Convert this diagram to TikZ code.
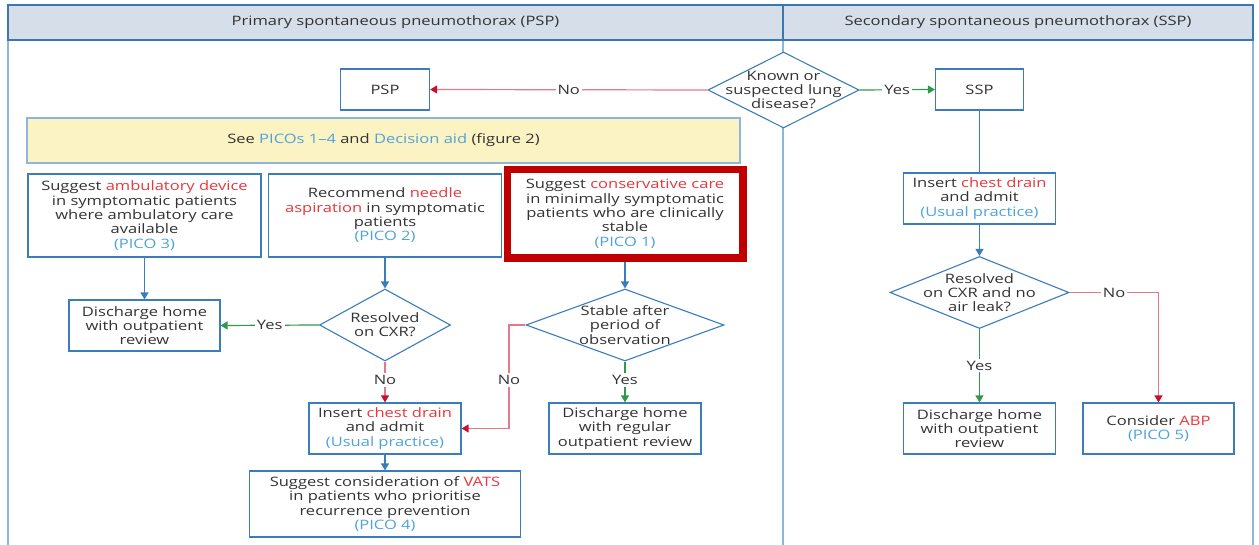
\documentclass[tikz,border=0pt]{standalone}
\usepackage{fontspec}
\setmainfont{Open Sans}[FakeStretch=1.27]
\usetikzlibrary{arrows.meta,shapes.geometric}

\definecolor{boxblue}{HTML}{3A7DBA}
\definecolor{linkblue}{HTML}{4FA3DC}
\definecolor{accred}{HTML}{E8383D}
\definecolor{noline}{HTML}{E17A8C}
\definecolor{nohead}{HTML}{C8102E}
\definecolor{yesgreen}{HTML}{2E9A4A}
\definecolor{headfill}{HTML}{D6DEEA}
\definecolor{headline}{HTML}{3A78AE}
\definecolor{frameblue}{HTML}{8DB6DA}
\definecolor{pyellow}{HTML}{FBF3C3}
\definecolor{framered}{HTML}{C00000}
\definecolor{txtgray}{HTML}{333333}

\begin{document}
\begin{tikzpicture}[x=1pt, y=-1pt,
    every node/.style={font=\fontsize{13}{14.3}\selectfont, text=txtgray},
    box/.style={draw=boxblue, line width=1.1pt, fill=white, align=center, inner sep=0pt},
    decision/.style={diamond, draw=boxblue, line width=1.1pt, fill=white, inner sep=0pt},
    lbl/.style={fill=white, inner sep=2pt},
    flow/.style={-{Triangle[length=7pt,width=8pt]}, line width=1.2pt, boxblue},
    noarrow/.style={-{Triangle[length=7pt,width=8pt,color=nohead]}, line width=1.2pt, noline},
    yesarrow/.style={-{Triangle[length=7pt,width=8pt]}, line width=1.2pt, yesgreen}]
  \useasboundingbox (0,0) rectangle (1259,545);
  % panels
  \draw[frameblue, line width=1.5pt] (8,40) -- (8,545) (783,40) -- (783,545) (1253,40) -- (1253,545);
  \draw[headline, fill=headfill, line width=1.5pt] (8,5) rectangle (783,40);
  \draw[headline, fill=headfill, line width=1.5pt] (783,5) rectangle (1253,40);
  \node (hpsp) at (395.5,22) {Primary spontaneous pneumothorax (PSP)};
  \node (hssp) at (1018,22) {Secondary spontaneous pneumothorax (SSP)};

  % top decision
  \node[decision, minimum width=151, minimum height=76, label={[align=center]center:Known or\\suspected lung\\disease?}] (known) at (783.5,90) {};
  \node[box, minimum width=89, minimum height=41] (psp) at (385,89.5) {PSP};
  \node[box, minimum width=88, minimum height=41] (ssp) at (979.5,89.5) {SSP};
  \node[box, draw=frameblue, fill=pyellow, minimum width=713, minimum height=45] (picos) at (383.5,140.5)
    {See \textcolor{linkblue}{PICOs 1–4} and \textcolor{linkblue}{Decision aid} (figure 2)};

  % PSP options
  \node[box, minimum width=233, minimum height=83] (amb) at (144.5,215.5)
    {Suggest \textcolor{accred}{ambulatory device}\\in symptomatic patients\\where ambulatory care\\available\\\textcolor{linkblue}{(PICO 3)}};
  \node[box, minimum width=233, minimum height=83] (needle) at (385,215.5)
    {Recommend \textcolor{accred}{needle}\\\textcolor{accred}{aspiration} in symptomatic\\patients\\\textcolor{linkblue}{(PICO 2)}};
  \node[box, draw=framered, line width=7.5pt, minimum width=235.5, minimum height=88.5] (cons) at (625,213.75)
    {Suggest \textcolor{accred}{conservative care}\\in minimally symptomatic\\patients who are clinically\\stable\\\textcolor{linkblue}{(PICO 1)}};

  \node[box, minimum width=151, minimum height=51] (dhome) at (144.5,325.5) {Discharge home\\with outpatient\\review};
  \node[decision, minimum width=131, minimum height=72, label={[align=center]center:Resolved\\on CXR?}] (cxr) at (385,325) {};
  \node[decision, minimum width=198, minimum height=72, label={[align=center]center:Stable after\\period of\\observation}] (stable) at (625,325) {};
  \node[box, minimum width=152, minimum height=51] (drain) at (385,428.5)
    {Insert \textcolor{accred}{chest drain}\\and admit\\\textcolor{linkblue}{(Usual practice)}};
  \node[box, minimum width=152, minimum height=51] (dreg) at (625,428.5) {Discharge home\\with regular\\outpatient review};
  \node[box, minimum width=271, minimum height=66] (vats) at (385,504)
    {Suggest consideration of \textcolor{accred}{VATS}\\in patients who prioritise\\recurrence prevention\\\textcolor{linkblue}{(PICO 4)}};

  % SSP side
  \node[box, minimum width=152, minimum height=51] (drain2) at (979.5,198.5)
    {Insert \textcolor{accred}{chest drain}\\and admit\\\textcolor{linkblue}{(Usual practice)}};
  \node[decision, minimum width=179, minimum height=72, label={[align=center]center:Resolved\\on CXR and no\\air leak?}] (leak) at (979.5,292.5) {};
  \node[box, minimum width=152, minimum height=51] (dhome2) at (979.5,428.5) {Discharge home\\with outpatient\\review};
  \node[box, minimum width=151, minimum height=51] (abp) at (1158.5,428.5)
    {Consider \textcolor{accred}{ABP}\\\textcolor{linkblue}{(PICO 5)}};

  % connectors
  \draw[noarrow] (known.west) -- node[lbl] {No} (psp.east);
  \draw[yesarrow] (known.east) -- node[lbl] {Yes} (ssp.west);
  \draw[flow] (amb.south) -- (dhome.north);
  \draw[flow] (needle.south) -- (cxr.north);
  \draw[flow] (cons.south) -- (stable.north);
  \draw[yesarrow] (cxr.west) -- node[lbl] {Yes} (dhome.east);
  \draw[noarrow] (cxr.south) -- node[lbl, pos=0.45] {No} (drain.north);
  \coordinate (nobend) at (509,325);
  \draw[noarrow] (stable.west) -- (nobend) -- node[lbl, pos=0.53] {No} (nobend |- drain.east) -- (drain.east);
  \draw[yesarrow] (stable.south) -- node[lbl, pos=0.45] {Yes} (dreg.north);
  \draw[flow] (drain.south) -- (vats.north);
  \draw[line width=1.2pt, boxblue] (ssp.south) -- (drain2.north);
  \draw[flow] (drain2.south) -- (leak.north);
  \draw[yesarrow] (leak.south) -- node[lbl] {Yes} (dhome2.north);
  \draw[noarrow] (leak.east) -- node[lbl] {No} (leak.east -| abp.north) -- (abp.north);
\end{tikzpicture}
\end{document}
